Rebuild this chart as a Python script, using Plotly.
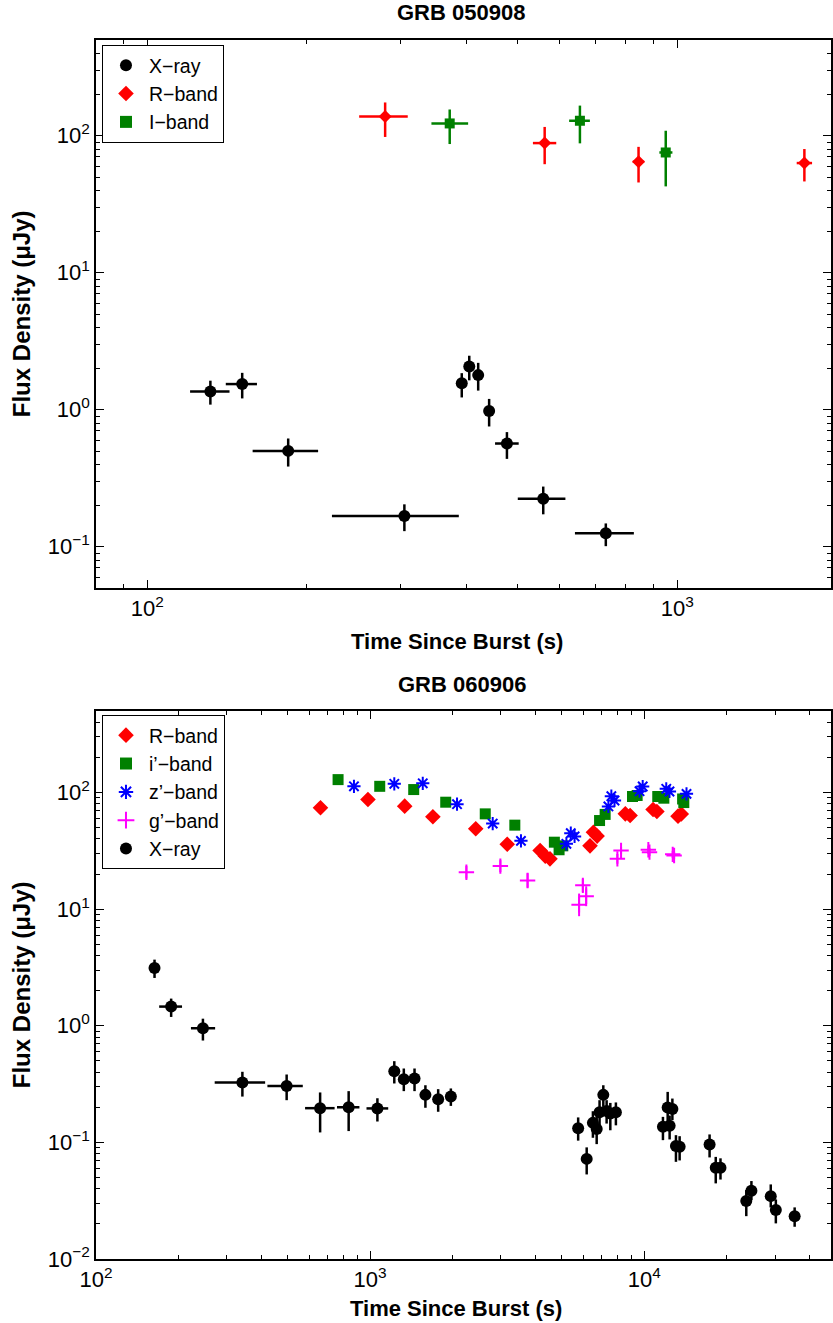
import math
import plotly.graph_objects as go

# ---------------- GRB 050908 (top panel) ----------------
xr1_t = [131.5, 151, 184.4, 305.5, 392, 405, 421, 441.5, 477, 558.5, 733]
xr1_t_lo = [120.4, 140.6, 158, 223, 392, 405, 421, 441.5, 453, 500, 641]
xr1_t_hi = [142.9, 161, 210, 387, 392, 405, 421, 441.5, 502, 615, 828]
xr1_f = [1.36, 1.54, 0.501, 0.168, 1.56, 2.07, 1.79, 0.978, 0.567, 0.2245, 0.1253]
xr1_f_lo = [1.09, 1.21, 0.385, 0.130, 1.23, 1.64, 1.38, 0.755, 0.438, 0.1725, 0.101]
xr1_f_hi = [1.63, 1.86, 0.617, 0.204, 1.85, 2.48, 2.2, 1.20, 0.687, 0.275, 0.148]

r1_t = [281, 562, 845, 1737]
r1_t_lo = [251, 534, 824, 1680]
r1_t_hi = [310, 591, 866, 1796]
r1_f = [138, 88.4, 64.6, 63.2]
r1_f_lo = [98, 62, 45.6, 46.4]
r1_f_hi = [175, 116, 83, 80]

i1_t = [372, 655, 951]
i1_t_lo = [343.6, 625, 925]
i1_t_hi = [403, 684, 979]
i1_f = [123, 128.7, 75.5]
i1_f_lo = [87, 88, 42.7]
i1_f_hi = [155.5, 166, 108.8]

# ---------------- GRB 060906 (bottom panel) ----------------
r2_t = [659, 982, 1337, 1694, 2428, 3163, 4170, 4353, 4530, 6340, 6525, 6730,
        8530, 8880, 10770, 11120, 13280, 13650]
r2_f = [74, 87, 76.4, 62, 48.9, 36, 31.8, 28.5, 27, 34.9, 45.7, 42.3,
        65.6, 63.5, 71.5, 68.7, 62.7, 65.5]

i2_t = [764, 1084, 1442, 1887, 2630, 3372, 4700, 4890, 5045, 6870, 7200,
        9060, 9420, 11200, 11790, 13800, 13940]
i2_f = [129, 113, 106, 82.6, 65.6, 52.5, 37.5, 32.3, 34.9, 57.5, 64.9,
        92.4, 94.3, 92.4, 89.4, 88, 82]

z2_t = [873, 1225, 1556, 2075, 2800, 3550, 5200, 5395, 5570, 7400, 7585, 7790,
        9610, 9870, 12030, 12360, 14260]
z2_f = [113, 118.7, 120, 79.4, 54.2, 38.5, 36.3, 44.8, 42, 75.9, 93, 85.4,
        102.6, 112.6, 107.6, 102, 97.4]

g2_t = [2245, 2986, 3753, 5970, 6140, 5785, 7980, 8230, 10350, 10450, 12850, 12700]
g2_f = [20.7, 23.4, 17.6, 16, 12.9, 10.9, 27, 31.8, 32.3, 30.8, 28.8, 29.5]
g2_f_lo = [18.3, 20.8, 15.3, 14.0, 10.6, 8.7, 24.5, 29.5, 29.8, 28.5, 26.8, 27.5]
g2_f_hi = [23.4, 26.3, 20.3, 18.2, 15.7, 13.6, 29.7, 34.3, 35.0, 33.3, 31.0, 31.6]

xr2_t = [163.5, 188, 245.5, 342, 496, 657, 835, 1063, 1225, 1327, 1452, 1591, 1771,
         1970, 5740, 6166, 6497, 6706, 6870, 7090, 7290, 7520, 7880, 11700, 12175,
         12375, 12664, 13050, 13460, 17310, 18230, 18970, 23560, 24600, 28940,
         30200, 35370]
xr2_t_lo = [163.5, 170, 222, 271, 422, 579, 757, 970] + xr2_t[8:]
xr2_t_hi = [163.5, 206, 272, 414, 568, 742, 914, 1164] + xr2_t[8:]
xr2_f = [3.13, 1.46, 0.952, 0.326, 0.305, 0.1965, 0.2, 0.1955, 0.407, 0.348,
         0.353, 0.2555, 0.2346, 0.2475, 0.1324, 0.0722, 0.147, 0.1305, 0.1815, 0.2555,
         0.186, 0.177, 0.1815, 0.136, 0.199, 0.1386, 0.1937, 0.0929, 0.0917, 0.096,
         0.0605, 0.0605, 0.0314, 0.0385, 0.0346, 0.0263, 0.0233]
xr2_f_lo = [2.57, 1.19, 0.747, 0.247, 0.230, 0.1217, 0.125, 0.151, 0.32, 0.275,
            0.275, 0.198, 0.183, 0.2055, 0.1035, 0.0531, 0.1095, 0.0966, 0.134, 0.2015,
            0.145, 0.127, 0.14, 0.1045, 0.145, 0.106, 0.155, 0.0681, 0.07, 0.0743,
            0.0445, 0.048, 0.0233, 0.032, 0.0277, 0.0202, 0.0189]
xr2_f_hi = [3.69, 1.71, 1.15, 0.403, 0.382, 0.268, 0.275, 0.239, 0.497, 0.43,
            0.43, 0.309, 0.286, 0.29, 0.1637, 0.0906, 0.185, 0.1655, 0.23, 0.309,
            0.23, 0.218, 0.22, 0.1655, 0.271, 0.17, 0.2376, 0.1153, 0.113, 0.117,
            0.0751, 0.073, 0.039, 0.0466, 0.0436, 0.0324, 0.0277]

# tick labels
top_xtick_vals = [100, 1000]
top_xtick_text = ["10<sup>2</sup>", "10<sup>3</sup>"]
top_ytick_vals = [0.1, 1, 10, 100]
top_ytick_text = ["10<sup>−1</sup>", "10<sup>0</sup>", "10<sup>1</sup>", "10<sup>2</sup>"]
bot_xtick_vals = [100, 1000, 10000]
bot_xtick_text = ["10<sup>2</sup>", "10<sup>3</sup>", "10<sup>4</sup>"]
bot_ytick_vals = [0.01, 0.1, 1, 10, 100]
bot_ytick_text = ["10<sup>−2</sup>", "10<sup>−1</sup>", "10<sup>0</sup>", "10<sup>1</sup>", "10<sup>2</sup>"]

FONT = "Liberation Sans, Arial, Helvetica, sans-serif"


def err(v, lo, hi, color, th=2.5):
    return dict(type="data", symmetric=False,
                array=[h - a for a, h in zip(v, hi)],
                arrayminus=[a - l for a, l in zip(v, lo)],
                thickness=th, width=0, color=color)


def minor_vals(e0, e1):
    return [m * 10 ** e for e in range(e0, e1) for m in range(2, 10)]


fig = go.Figure()

# top panel
fig.add_trace(go.Scatter(x=xr1_t, y=xr1_f, mode="markers", name="X−ray",
                         marker=dict(symbol="circle", size=12, color="black"),
                         error_x=err(xr1_t, xr1_t_lo, xr1_t_hi, "black"),
                         error_y=err(xr1_f, xr1_f_lo, xr1_f_hi, "black"),
                         xaxis="x", yaxis="y", legend="legend"))
fig.add_trace(go.Scatter(x=r1_t, y=r1_f, mode="markers", name="R−band",
                         marker=dict(symbol="diamond", size=10, color="#FF0000"),
                         error_x=err(r1_t, r1_t_lo, r1_t_hi, "#FF0000"),
                         error_y=err(r1_f, r1_f_lo, r1_f_hi, "#FF0000"),
                         xaxis="x", yaxis="y", legend="legend"))
fig.add_trace(go.Scatter(x=i1_t, y=i1_f, mode="markers", name="I−band",
                         marker=dict(symbol="square", size=10, color="#008000"),
                         error_x=err(i1_t, i1_t_lo, i1_t_hi, "#008000"),
                         error_y=err(i1_f, i1_f_lo, i1_f_hi, "#008000"),
                         xaxis="x", yaxis="y", legend="legend"))

# bottom panel
fig.add_trace(go.Scatter(x=r2_t, y=r2_f, mode="markers", name="R−band",
                         marker=dict(symbol="diamond", size=12, color="#FF0000"),
                         xaxis="x2", yaxis="y2", legend="legend2"))
fig.add_trace(go.Scatter(x=i2_t, y=i2_f, mode="markers", name="i’−band",
                         marker=dict(symbol="square", size=11, color="#008000"),
                         xaxis="x2", yaxis="y2", legend="legend2"))
fig.add_trace(go.Scatter(x=z2_t, y=z2_f, mode="markers", name="z’−band",
                         marker=dict(symbol="asterisk-open", size=11, color="#0000FF",
                                     line=dict(color="#0000FF", width=2)),
                         xaxis="x2", yaxis="y2", legend="legend2"))
fig.add_trace(go.Scatter(x=g2_t, y=g2_f, mode="markers", name="g’−band",
                         marker=dict(symbol="cross-thin-open", size=11, color="#FF00FF",
                                     line=dict(color="#FF00FF", width=2)),
                         error_y=err(g2_f, g2_f_lo, g2_f_hi, "#FF00FF", 2),
                         xaxis="x2", yaxis="y2", legend="legend2"))
fig.add_trace(go.Scatter(x=xr2_t, y=xr2_f, mode="markers", name="X−ray",
                         marker=dict(symbol="circle", size=12, color="black"),
                         error_x=err(xr2_t, xr2_t_lo, xr2_t_hi, "black"),
                         error_y=err(xr2_f, xr2_f_lo, xr2_f_hi, "black"),
                         xaxis="x2", yaxis="y2", legend="legend2"))

# geometry (pixels)
W, H = 833, 1323
ML, MR, MT, MB = 96, 0, 40, 64
PW, PH = W - ML - MR, H - MT - MB


def px(xp):
    return (xp - ML) / PW


def py(yp):
    return (H - MB - yp) / PH


def axis_common(tv, tt, minv):
    return dict(type="log", showline=True, linecolor="black", linewidth=1.5,
                mirror="allticks", ticks="inside", ticklen=8, tickwidth=1,
                tickcolor="black", showgrid=False, zeroline=False,
                tickmode="array", tickvals=tv, ticktext=tt,
                tickfont=dict(family=FONT, size=22, color="black"),
                minor=dict(ticks="inside", ticklen=4, tickwidth=1, tickcolor="black",
                           tickmode="array", tickvals=minv, showgrid=False))


leg_common = dict(xanchor="left", yanchor="top", bordercolor="black", borderwidth=1,
                  bgcolor="white", font=dict(family=FONT, size=19.5, color="black"),
                  tracegroupgap=0, itemsizing="constant", itemwidth=36)

fig.update_layout(
    width=W, height=H, autosize=False,
    margin=dict(l=ML, r=MR, t=MT, b=MB),
    plot_bgcolor="white", paper_bgcolor="white",
    font=dict(family=FONT, color="black"),
    xaxis=dict(**axis_common(top_xtick_vals, top_xtick_text, minor_vals(1, 4)),
               domain=[0, 1], anchor="y",
               range=[math.log10(80), math.log10(1950)]),
    yaxis=dict(**axis_common(top_ytick_vals, top_ytick_text, minor_vals(-2, 3)),
               domain=[py(588), 1], anchor="x",
               range=[math.log10(0.05), math.log10(500)]),
    xaxis2=dict(**axis_common(bot_xtick_vals, bot_xtick_text, minor_vals(2, 5)),
                domain=[0, 1], anchor="y2",
                range=[2, math.log10(48000)]),
    yaxis2=dict(**axis_common(bot_ytick_vals, bot_ytick_text, minor_vals(-2, 3)),
                domain=[0, py(711)], anchor="x2",
                range=[-2, math.log10(500)]),
    legend=dict(x=px(102), y=py(45), **leg_common),
    legend2=dict(x=px(102), y=py(715), **leg_common),
    showlegend=True,
)

annots = [
    ("<b>GRB 050908</b>", px(462), py(13), 0, 22),
    ("<b>Time Since Burst (s)</b>", px(458), py(641), 0, 22),
    ("<b>GRB 060906</b>", px(463), py(684), 0, 22),
    ("<b>Time Since Burst (s)</b>", px(457), py(1308), 0, 22),
    ("<b>Flux Density (μJy)</b>", px(21), py(314), -90, 24),
    ("<b>Flux Density (μJy)</b>", px(21), py(985), -90, 24),
]
for text, ax_, ay_, ang, fs in annots:
    fig.add_annotation(text=text, x=ax_, y=ay_, xref="paper", yref="paper",
                       showarrow=False, textangle=ang,
                       font=dict(family=FONT, size=fs, color="black"),
                       xanchor="center", yanchor="middle")

fig.write_html("out.html", config={"displayModeBar": False},
               post_script="document.body.style.margin='0';document.body.style.overflow='hidden';")
